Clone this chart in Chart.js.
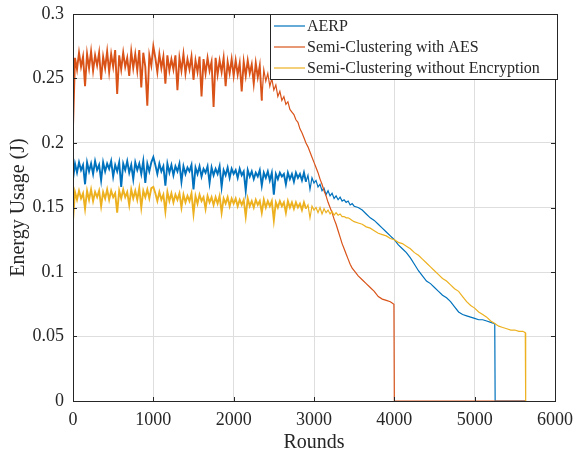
<!DOCTYPE html>
<html>
<head>
<meta charset="utf-8">
<script src="https://cdn.jsdelivr.net/npm/chart.js@4.4.1/dist/chart.umd.min.js"></script>
<style>
  html, body { margin: 0; padding: 0; background: #fff; }
</style>
</head>
<body>
<canvas id="energyChart" width="573" height="455"></canvas>
<script>
// Energy usage per round.
// Noisy part: one value every 25 rounds from 0 to 3500.
const sampleStep = 25;

const seriesNames = ['AERP', 'Semi-Clustering with AES', 'Semi-Clustering without Encryption'];
const seriesColors = ['#0072BD', '#D95319', '#EDB120'];

const aerpEnergy = [0.172,
  0.184,0.177,0.185,0.179,0.183,0.168,0.185,0.178,0.184,0.176,
  0.186,0.179,0.183,0.171,0.185,0.178,0.184,0.180,0.186,0.174,
  0.183,0.178,0.185,0.166,0.184,0.179,0.186,0.177,0.183,0.172,
  0.185,0.179,0.184,0.176,0.186,0.169,0.184,0.178,0.185,0.189,
  0.183,0.176,0.184,0.178,0.182,0.167,0.184,0.177,0.183,0.175,
  0.182,0.178,0.184,0.170,0.182,0.176,0.181,0.178,0.183,0.164,
  0.181,0.176,0.182,0.174,0.180,0.177,0.182,0.169,0.181,0.175,
  0.180,0.176,0.182,0.166,0.179,0.175,0.181,0.173,0.180,0.176,
  0.179,0.173,0.180,0.175,0.178,0.163,0.179,0.174,0.178,0.172,
  0.177,0.174,0.179,0.167,0.177,0.173,0.178,0.171,0.177,0.160,
  0.176,0.172,0.177,0.174,0.176,0.168,0.177,0.172,0.176,0.170,
  0.177,0.173,
  0.176,0.171,0.177,0.170,0.175,0.164,0.173,0.169,0.171,0.166,
  0.168,0.163,0.165,0.160,0.163,0.159,0.161,0.157,0.159,0.156,
  0.158,0.155,0.156,0.154,0.155,0.152,0.153,0.151];
const aerpTailRounds = [3550,3600,3650,3700,3750,3800,3850,3900,3950,4000,
  4050,4100,4150,4200,4250,4300,4350,4400,4450,4500,
  4550,4600,4650,4700,4750,4800,4850,4900,4950,5000,
  5050,5100,5150,5200,5250,5255,5640];
const aerpTailEnergy = [0.150,0.148,0.145,0.142,0.140,0.137,0.134,0.131,0.128,0.125,
  0.121,0.118,0.115,0.111,0.106,0.101,0.097,0.093,0.091,0.088,
  0.085,0.082,0.080,0.077,0.073,0.069,0.067,0.066,0.065,0.064,
  0.063,0.063,0.062,0.061,0.060,0,0];

const aesEnergy = [0.212,
  0.266,0.257,0.270,0.259,0.267,0.244,0.269,0.258,0.271,0.256,
  0.268,0.260,0.270,0.249,0.267,0.258,0.271,0.255,0.269,0.259,
  0.272,0.238,0.268,0.257,0.270,0.259,0.266,0.252,0.271,0.258,
  0.269,0.256,0.272,0.243,0.270,0.259,0.229,0.268,0.260,0.275,
  0.266,0.255,0.269,0.258,0.267,0.246,0.268,0.256,0.265,0.257,
  0.268,0.241,0.266,0.256,0.269,0.254,0.265,0.257,0.267,0.249,
  0.264,0.255,0.267,0.236,0.265,0.254,0.266,0.256,0.263,0.228,
  0.266,0.253,0.264,0.255,0.266,0.244,0.263,0.254,0.265,0.252,
  0.264,0.253,0.262,0.240,0.263,0.252,0.264,0.254,0.261,0.246,0.262,0.251,0.260,0.233,
  0.257,0.248,0.254,0.244,0.250,0.241,0.245,0.236,0.240,0.233,
  0.236,0.230,0.232,0.226,0.224,0.222,0.218,0.216,0.211,0.208,
  0.204,0.200,0.197,0.193,0.189,0.185,0.181,0.177,0.172,0.168,
  0.163,0.159,0.154,0.150,0.146,0.141,0.137,0.132,0.127,0.122,
  0.118,0.114,0.110,0.106,0.103,0.101];
const aesTailRounds = [3550,3600,3650,3700,3750,3800,3850,3900,3950,3995,4000,5640];
const aesTailEnergy = [0.097,0.094,0.091,0.088,0.085,0.081,0.079,0.078,0.077,0.075,0,0];

const plainEnergy = [0.140,
  0.162,0.156,0.163,0.157,0.161,0.149,0.163,0.156,0.164,0.155,
  0.162,0.158,0.163,0.151,0.162,0.157,0.164,0.156,0.163,0.158,
  0.161,0.146,0.163,0.157,0.164,0.158,0.162,0.152,0.164,0.157,
  0.163,0.156,0.165,0.150,0.163,0.158,0.164,0.157,0.165,0.166,
  0.161,0.155,0.162,0.156,0.160,0.147,0.162,0.155,0.161,0.154,
  0.160,0.156,0.161,0.150,0.160,0.154,0.159,0.155,0.161,0.145,
  0.159,0.153,0.160,0.155,0.158,0.149,0.159,0.154,0.158,0.152,
  0.158,0.153,0.159,0.146,0.157,0.153,0.158,0.151,0.157,0.153,
  0.157,0.151,0.156,0.152,0.156,0.143,0.157,0.151,0.155,0.150,
  0.156,0.152,0.155,0.146,0.156,0.150,0.155,0.151,0.155,0.140,
  0.154,0.150,0.155,0.151,0.154,0.146,0.155,0.150,0.154,0.149,
  0.154,0.150,
  0.153,0.148,0.154,0.149,0.152,0.142,0.151,0.148,0.150,0.146,
  0.150,0.145,0.149,0.146,0.148,0.145,0.147,0.144,0.146,0.144,
  0.145,0.143,0.143,0.142,0.142,0.141,0.140,0.139];
const plainTailRounds = [3550,3600,3650,3700,3750,3800,3850,3900,3950,4000,
  4050,4100,4150,4200,4250,4300,4350,4400,4450,4500,
  4550,4600,4650,4700,4750,4800,4850,4900,4950,5000,
  5050,5100,5150,5200,5250,5300,5350,5400,5450,5500,
  5550,5600,5630,5635];
const plainTailEnergy = [0.138,0.137,0.135,0.134,0.132,0.130,0.129,0.128,0.126,0.125,
  0.123,0.122,0.120,0.118,0.115,0.113,0.110,0.107,0.104,0.101,
  0.098,0.095,0.093,0.090,0.087,0.085,0.081,0.077,0.074,0.072,
  0.069,0.067,0.065,0.062,0.060,0.058,0.057,0.056,0.055,0.055,
  0.054,0.054,0.053,0];

const xTicks = [0, 1000, 2000, 3000, 4000, 5000, 6000];
const yTicks = [0, 0.05, 0.1, 0.15, 0.2, 0.25, 0.3];

// sampled part + tail -> {x, y} points
function toPoints(sampled, tailRounds, tailValues) {
  const pts = sampled.map((v, i) => ({ x: i * sampleStep, y: v }));
  tailRounds.forEach((r, i) => pts.push({ x: r, y: tailValues[i] }));
  return pts;
}

const SERIF = "'Liberation Serif', 'Times New Roman', serif";
const INK = '#262626';

// axes box, inward ticks and the legend drawn MATLAB-style
const matlabFrame = {
  id: 'matlabFrame',
  afterDatasetsDraw(chart) {
    const { ctx, chartArea: a, scales: { x, y } } = chart;
    ctx.save();
    ctx.strokeStyle = INK;
    ctx.lineWidth = 1;
    ctx.beginPath();
    xTicks.forEach(t => {
      const px = Math.round(x.getPixelForValue(t)) + 0.5;
      ctx.moveTo(px, a.bottom); ctx.lineTo(px, a.bottom - 4);
      ctx.moveTo(px, a.top); ctx.lineTo(px, a.top + 4);
    });
    yTicks.forEach(t => {
      const py = Math.round(y.getPixelForValue(t)) + 0.5;
      ctx.moveTo(a.left, py); ctx.lineTo(a.left + 4, py);
      ctx.moveTo(a.right, py); ctx.lineTo(a.right - 4, py);
    });
    ctx.stroke();
    ctx.strokeRect(Math.round(a.left) + 0.5, Math.round(a.top) + 0.5,
      Math.round(a.right - a.left), Math.round(a.bottom - a.top));

    // legend box
    const lx = 270, ly = 14, lw = 287, lh = 65;
    ctx.fillStyle = '#fff';
    ctx.fillRect(lx, ly, lw, lh);
    ctx.strokeRect(lx + 0.5, ly + 0.5, lw, lh);
    ctx.font = '16px ' + SERIF;
    ctx.textBaseline = 'middle';
    ctx.textAlign = 'left';
    seriesNames.forEach((name, i) => {
      const ry = ly + 12 + i * 21;
      ctx.strokeStyle = seriesColors[i];
      ctx.lineWidth = 1.2;
      ctx.beginPath();
      ctx.moveTo(lx + 4, ry); ctx.lineTo(lx + 35, ry);
      ctx.stroke();
      ctx.fillStyle = INK;
      ctx.fillText(name, lx + 37, ry + 1);
    });
    ctx.restore();
  }
};

// thicker stroke where the trace is a dense noise band
const bandWidth = ctx => (ctx.p1.parsed.x <= 2900 ? 1.9 : 1.2);

new Chart(document.getElementById('energyChart').getContext('2d'), {
  type: 'line',
  data: {
    datasets: [
      { label: seriesNames[0], data: toPoints(aerpEnergy, aerpTailRounds, aerpTailEnergy),
        borderColor: seriesColors[0], order: 3, segment: { borderWidth: bandWidth } },
      { label: seriesNames[1], data: toPoints(aesEnergy, aesTailRounds, aesTailEnergy),
        borderColor: seriesColors[1], order: 2,
        segment: { borderWidth: ctx => (ctx.p1.parsed.x <= 2350 ? 1.9 : 1.2) } },
      { label: seriesNames[2], data: toPoints(plainEnergy, plainTailRounds, plainTailEnergy),
        borderColor: seriesColors[2], order: 1, segment: { borderWidth: bandWidth } }
    ]
  },
  options: {
    responsive: false,
    animation: false,
    layout: { padding: { left: 0, right: 18, top: 14, bottom: 0 } },
    elements: {
      point: { radius: 0 },
      line: { borderWidth: 1.2, tension: 0, fill: false }
    },
    plugins: { legend: { display: false }, tooltip: { enabled: false } },
    scales: {
      x: {
        type: 'linear', min: 0, max: 6000,
        afterBuildTicks: s => { s.ticks = xTicks.map(v => ({ value: v })); },
        afterFit: s => { s.height = 54; s.paddingLeft = 0; s.paddingRight = 0; },
        ticks: { padding: 8, maxRotation: 0, color: INK, font: { family: SERIF, size: 18 },
          callback: v => String(v) },
        grid: { color: '#dedede', drawTicks: false },
        border: { color: INK },
        title: { display: true, text: 'Rounds', color: INK, padding: 0,
          font: { family: SERIF, size: 20 } }
      },
      y: {
        min: 0, max: 0.3,
        afterBuildTicks: s => { s.ticks = yTicks.map(v => ({ value: v })); },
        afterFit: s => { s.width = 73; s.paddingTop = 0; s.paddingBottom = 0; },
        ticks: { padding: 9, color: INK, font: { family: SERIF, size: 18 },
          callback: v => String(+v.toFixed(2)) },
        grid: { color: '#dedede', drawTicks: false },
        border: { color: INK },
        title: { display: true, text: 'Energy Usage (J)', color: INK,
          padding: { top: 7, bottom: 0 }, font: { family: SERIF, size: 20 } }
      }
    }
  },
  plugins: [matlabFrame]
});
</script>
</body>
</html>
